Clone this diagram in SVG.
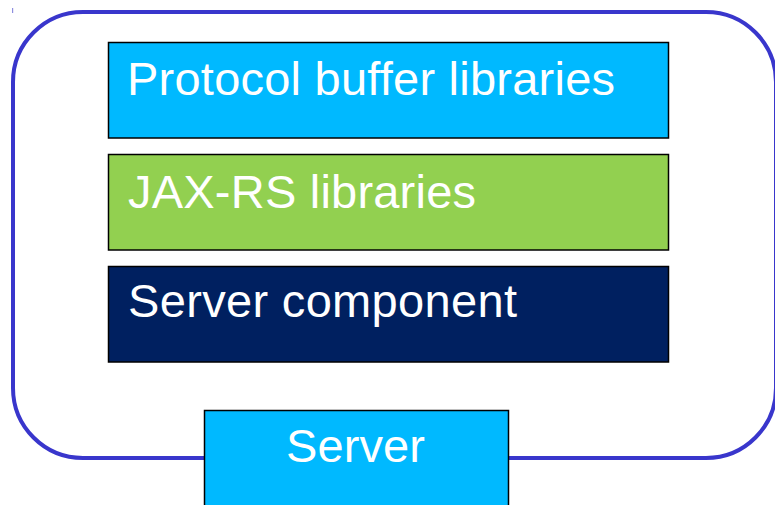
<svg xmlns="http://www.w3.org/2000/svg" width="775" height="505" viewBox="0 0 775 505">
  <style>
    .box { stroke: #000000; stroke-width: 1.5; }
    .lbl { font-family: "Liberation Sans", Arial, sans-serif; font-size: 47px; fill: #ffffff; }
    .cyan { fill: #00B9FF; }
  </style>
  <rect x="0" y="0" width="775" height="505" fill="#ffffff"/>
  <rect x="12" y="8" width="1.2" height="5" fill="#8f8fdf"/>
  <g id="connectors"></g>
  <g id="server-frame">
    <rect x="13" y="12" width="763" height="446" rx="70" ry="70" fill="none" stroke="#3936CC" stroke-width="4"/>
  </g>
  <g id="protocol-buffer-libraries">
    <rect class="box cyan" x="108.5" y="42.5" width="560" height="95.5"/>
    <text class="lbl" x="127" y="95" textLength="488" lengthAdjust="spacing">Protocol buffer libraries</text>
  </g>
  <g id="jax-rs-libraries">
    <rect class="box" x="108.5" y="154.5" width="560" height="95.5" fill="#92D050"/>
    <text class="lbl" x="128" y="208" textLength="348" lengthAdjust="spacing">JAX-RS libraries</text>
  </g>
  <g id="server-component">
    <rect class="box" x="108.5" y="266.5" width="560" height="95.5" fill="#002060"/>
    <text class="lbl" x="128" y="317" textLength="389" lengthAdjust="spacing">Server component</text>
  </g>
  <g id="server">
    <rect class="box cyan" x="204.5" y="410.5" width="304" height="100"/>
    <text class="lbl" x="286" y="462" textLength="139" lengthAdjust="spacing">Server</text>
  </g>
</svg>
